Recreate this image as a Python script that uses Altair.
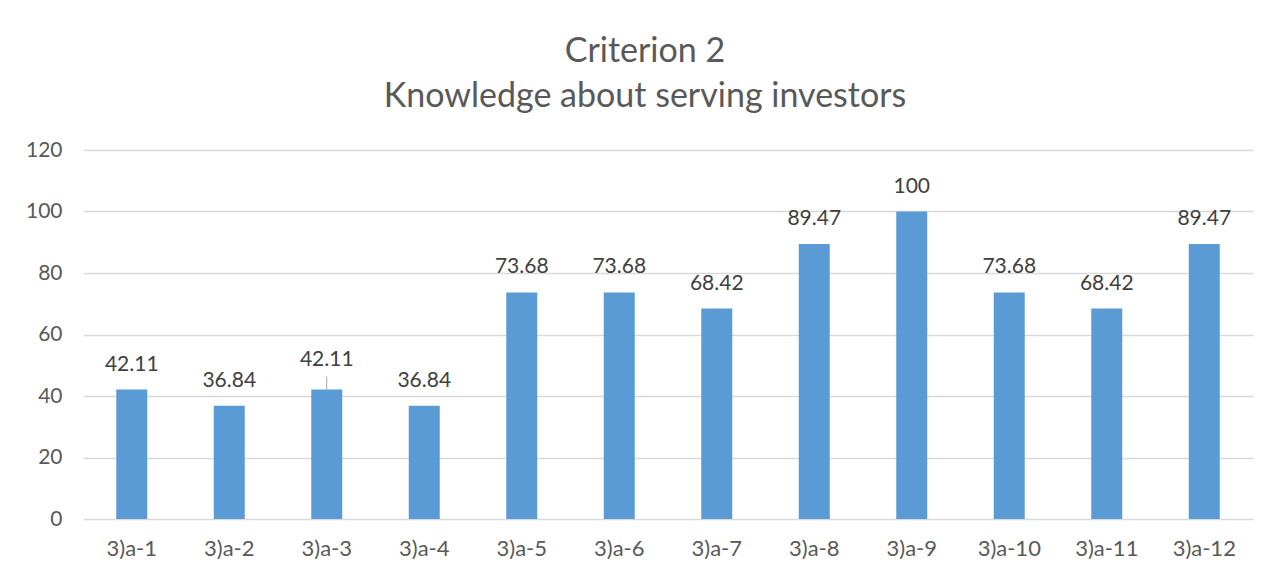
import altair as alt
import pandas as pd

categories = ["3)a-1", "3)a-2", "3)a-3", "3)a-4", "3)a-5", "3)a-6",
              "3)a-7", "3)a-8", "3)a-9", "3)a-10", "3)a-11", "3)a-12"]
values = [42.11, 36.84, 42.11, 36.84, 73.68, 73.68,
          68.42, 89.47, 100, 73.68, 68.42, 89.47]
y_ticks = [0, 20, 40, 60, 80, 100, 120]
title_lines = ["Criterion 2", "Knowledge about serving investors"]
leader_category = "3)a-3"

df = pd.DataFrame({"cat": categories, "value": values})
df["label"] = df["value"].map(lambda v: f"{v:g}")

FONT = "Lato"
TXT = "#595959"

x_enc = alt.X("cat:N", sort=categories, title=None,
              scale=alt.Scale(paddingInner=0, paddingOuter=0),
              axis=alt.Axis(labelAngle=0, labelFont=FONT, labelFontSize=22,
                            labelColor=TXT, labelPadding=19, ticks=False,
                            tickSize=0, domain=False))
y_enc = alt.Y("value:Q", title=None,
              scale=alt.Scale(domain=[0, 120], nice=False),
              axis=alt.Axis(values=y_ticks, labelFont=FONT, labelFontSize=21,
                            labelColor=TXT, labelPadding=21, ticks=False,
                            tickSize=0, domain=False, gridColor="#d9d9d9",
                            gridWidth=1.3))

base = alt.Chart(df)

bars = base.mark_bar(size=31, color="#5B9BD5").encode(x=x_enc, y=y_enc)

labels = base.transform_filter(alt.datum.cat != leader_category).mark_text(
    font=FONT, fontSize=21, color="#404040", baseline="alphabetic", dy=-19
).encode(x=alt.X("cat:N", sort=categories), y="value:Q", text="label:N")

lead_labels = base.transform_filter(alt.datum.cat == leader_category).mark_text(
    font=FONT, fontSize=21, color="#404040", baseline="alphabetic", dy=-24
).encode(x=alt.X("cat:N", sort=categories), y="value:Q", text="label:N")

leader = base.transform_filter(alt.datum.cat == leader_category).mark_rule(
    color="#a6a6a6", strokeWidth=1, y2Offset=-13
).encode(x=alt.X("cat:N", sort=categories), y="value:Q", y2="value:Q")

chart = alt.layer(bars, leader, labels, lead_labels).properties(
    width=1170, height=369,
    autosize=alt.AutoSizeParams(type="none"),
    padding={"left": 75, "top": 142, "right": 20, "bottom": 45},
    title=alt.TitleParams(text=title_lines, font=FONT, fontSize=34,
                          fontWeight="normal", color=TXT, anchor="middle",
                          frame="group", dx=-23, lineHeight=45, offset=25),
).configure(background="white").configure_view(stroke=None)

chart.save("out.html", embed_options={"renderer": "svg", "actions": False})
